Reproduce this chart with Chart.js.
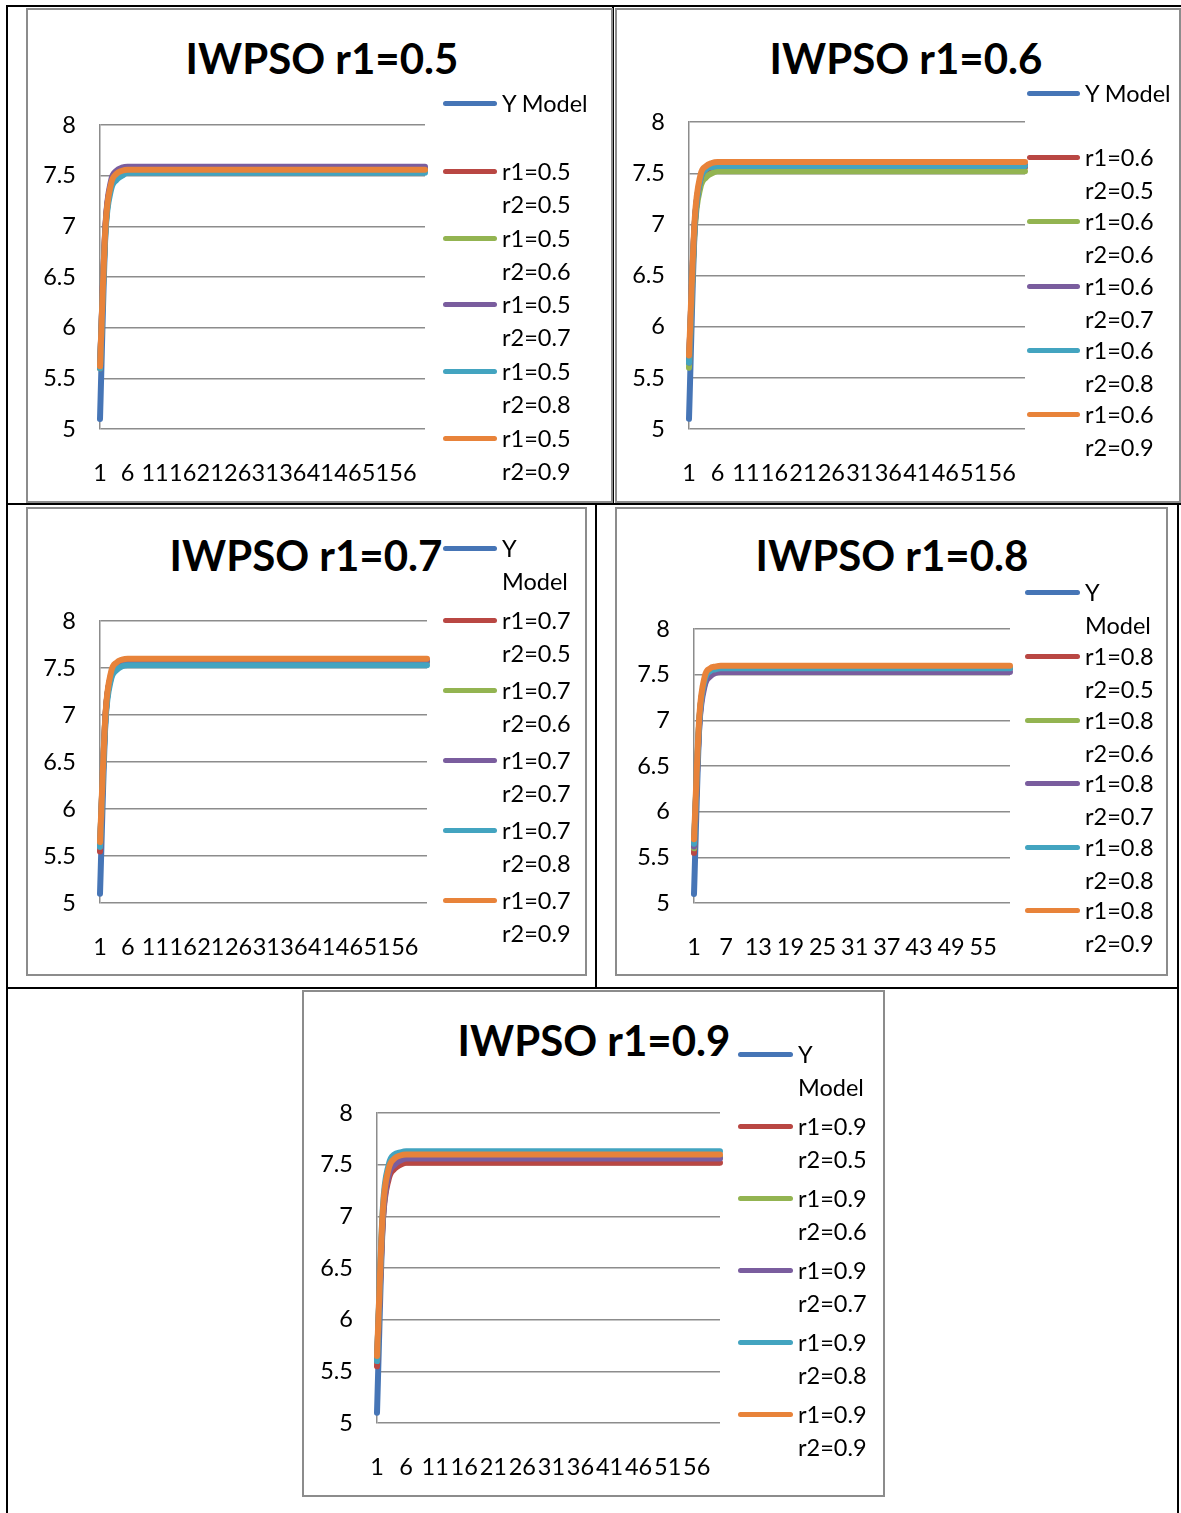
<!DOCTYPE html>
<html>
<head>
<meta charset="utf-8">
<script src="https://cdn.jsdelivr.net/npm/chart.js@4.4.0/dist/chart.umd.min.js"></script>
<style>
  body { margin: 0; background: #fff; font-family: Lato, "Open Sans", sans-serif; }
  #page { position: relative; width: 1181px; height: 1513px; overflow: hidden; }
  .rule { position: absolute; background: #000; }
  .frame { position: absolute; box-sizing: border-box; border: 2px solid #8c8c8c; background: #fff; }
  .title { position: absolute; width: 600px; text-align: center; font: bold 42px Lato, sans-serif; line-height: 50px; color: #000; white-space: nowrap; }
  .plot { position: absolute; }
  .swatch { position: absolute; height: 5px; border-radius: 3px; }
  .ltext { position: absolute; font-size: 23.5px; line-height: 33px; color: #000; white-space: nowrap; }
</style>
</head>
<body>
<div id="page"></div>
<script>
// x categories (iterations)
const categories = ['1','2','3','4','5','6','7','8','9','10','11','12','13','14','15','16','17','18','19','20',
  '21','22','23','24','25','26','27','28','29','30','31','32','33','34','35','36','37','38','39','40',
  '41','42','43','44','45','46','47','48','49','50','51','52','53','54','55','56','57','58','59','60'];

const r2Labels = ['0.5', '0.6', '0.7', '0.8', '0.9'];

// Y Model (same in every panel)
const yModel = [5.1, 6.95, 7.4, 7.5, 7.54, 7.57, 7.57, 7.57, 7.57, 7.57,
  7.57, 7.57, 7.57, 7.57, 7.57, 7.57, 7.57, 7.57, 7.57, 7.57,
  7.57, 7.57, 7.57, 7.57, 7.57, 7.57, 7.57, 7.57, 7.57, 7.57,
  7.57, 7.57, 7.57, 7.57, 7.57, 7.57, 7.57, 7.57, 7.57, 7.57,
  7.57, 7.57, 7.57, 7.57, 7.57, 7.57, 7.57, 7.57, 7.57, 7.57,
  7.57, 7.57, 7.57, 7.57, 7.57, 7.57, 7.57, 7.57, 7.57, 7.57];

// r1 = 0.5
const r105_r205 = [5.6, 7.0, 7.42, 7.52, 7.55, 7.56, 7.56, 7.56, 7.56, 7.56,
  7.56, 7.56, 7.56, 7.56, 7.56, 7.56, 7.56, 7.56, 7.56, 7.56,
  7.56, 7.56, 7.56, 7.56, 7.56, 7.56, 7.56, 7.56, 7.56, 7.56,
  7.56, 7.56, 7.56, 7.56, 7.56, 7.56, 7.56, 7.56, 7.56, 7.56,
  7.56, 7.56, 7.56, 7.56, 7.56, 7.56, 7.56, 7.56, 7.56, 7.56,
  7.56, 7.56, 7.56, 7.56, 7.56, 7.56, 7.56, 7.56, 7.56, 7.56];
const r105_r206 = [5.6, 6.98, 7.4, 7.5, 7.53, 7.55, 7.55, 7.55, 7.55, 7.55,
  7.55, 7.55, 7.55, 7.55, 7.55, 7.55, 7.55, 7.55, 7.55, 7.55,
  7.55, 7.55, 7.55, 7.55, 7.55, 7.55, 7.55, 7.55, 7.55, 7.55,
  7.55, 7.55, 7.55, 7.55, 7.55, 7.55, 7.55, 7.55, 7.55, 7.55,
  7.55, 7.55, 7.55, 7.55, 7.55, 7.55, 7.55, 7.55, 7.55, 7.55,
  7.55, 7.55, 7.55, 7.55, 7.55, 7.55, 7.55, 7.55, 7.55, 7.55];
const r105_r207 = [5.62, 7.02, 7.45, 7.55, 7.58, 7.59, 7.59, 7.59, 7.59, 7.59,
  7.59, 7.59, 7.59, 7.59, 7.59, 7.59, 7.59, 7.59, 7.59, 7.59,
  7.59, 7.59, 7.59, 7.59, 7.59, 7.59, 7.59, 7.59, 7.59, 7.59,
  7.59, 7.59, 7.59, 7.59, 7.59, 7.59, 7.59, 7.59, 7.59, 7.59,
  7.59, 7.59, 7.59, 7.59, 7.59, 7.59, 7.59, 7.59, 7.59, 7.59,
  7.59, 7.59, 7.59, 7.59, 7.59, 7.59, 7.59, 7.59, 7.59, 7.59];
const r105_r208 = [5.6, 6.95, 7.36, 7.46, 7.5, 7.53, 7.53, 7.53, 7.53, 7.53,
  7.53, 7.53, 7.53, 7.53, 7.53, 7.53, 7.53, 7.53, 7.53, 7.53,
  7.53, 7.53, 7.53, 7.53, 7.53, 7.53, 7.53, 7.53, 7.53, 7.53,
  7.53, 7.53, 7.53, 7.53, 7.53, 7.53, 7.53, 7.53, 7.53, 7.53,
  7.53, 7.53, 7.53, 7.53, 7.53, 7.53, 7.53, 7.53, 7.53, 7.53,
  7.53, 7.53, 7.53, 7.53, 7.53, 7.53, 7.53, 7.53, 7.53, 7.53];
const r105_r209 = [5.62, 7.0, 7.42, 7.52, 7.55, 7.56, 7.56, 7.56, 7.56, 7.56,
  7.56, 7.56, 7.56, 7.56, 7.56, 7.56, 7.56, 7.56, 7.56, 7.56,
  7.56, 7.56, 7.56, 7.56, 7.56, 7.56, 7.56, 7.56, 7.56, 7.56,
  7.56, 7.56, 7.56, 7.56, 7.56, 7.56, 7.56, 7.56, 7.56, 7.56,
  7.56, 7.56, 7.56, 7.56, 7.56, 7.56, 7.56, 7.56, 7.56, 7.56,
  7.56, 7.56, 7.56, 7.56, 7.56, 7.56, 7.56, 7.56, 7.56, 7.56];

// r1 = 0.6
const r106_r205 = [5.65, 7.0, 7.42, 7.52, 7.55, 7.56, 7.56, 7.56, 7.56, 7.56,
  7.56, 7.56, 7.56, 7.56, 7.56, 7.56, 7.56, 7.56, 7.56, 7.56,
  7.56, 7.56, 7.56, 7.56, 7.56, 7.56, 7.56, 7.56, 7.56, 7.56,
  7.56, 7.56, 7.56, 7.56, 7.56, 7.56, 7.56, 7.56, 7.56, 7.56,
  7.56, 7.56, 7.56, 7.56, 7.56, 7.56, 7.56, 7.56, 7.56, 7.56,
  7.56, 7.56, 7.56, 7.56, 7.56, 7.56, 7.56, 7.56, 7.56, 7.56];
const r106_r206 = [5.6, 6.95, 7.36, 7.46, 7.5, 7.52, 7.52, 7.52, 7.52, 7.52,
  7.52, 7.52, 7.52, 7.52, 7.52, 7.52, 7.52, 7.52, 7.52, 7.52,
  7.52, 7.52, 7.52, 7.52, 7.52, 7.52, 7.52, 7.52, 7.52, 7.52,
  7.52, 7.52, 7.52, 7.52, 7.52, 7.52, 7.52, 7.52, 7.52, 7.52,
  7.52, 7.52, 7.52, 7.52, 7.52, 7.52, 7.52, 7.52, 7.52, 7.52,
  7.52, 7.52, 7.52, 7.52, 7.52, 7.52, 7.52, 7.52, 7.52, 7.52];
const r106_r207 = [5.65, 7.0, 7.44, 7.54, 7.57, 7.58, 7.58, 7.58, 7.58, 7.58,
  7.58, 7.58, 7.58, 7.58, 7.58, 7.58, 7.58, 7.58, 7.58, 7.58,
  7.58, 7.58, 7.58, 7.58, 7.58, 7.58, 7.58, 7.58, 7.58, 7.58,
  7.58, 7.58, 7.58, 7.58, 7.58, 7.58, 7.58, 7.58, 7.58, 7.58,
  7.58, 7.58, 7.58, 7.58, 7.58, 7.58, 7.58, 7.58, 7.58, 7.58,
  7.58, 7.58, 7.58, 7.58, 7.58, 7.58, 7.58, 7.58, 7.58, 7.58];
const r106_r208 = [5.65, 7.0, 7.44, 7.54, 7.56, 7.57, 7.57, 7.57, 7.57, 7.57,
  7.57, 7.57, 7.57, 7.57, 7.57, 7.57, 7.57, 7.57, 7.57, 7.57,
  7.57, 7.57, 7.57, 7.57, 7.57, 7.57, 7.57, 7.57, 7.57, 7.57,
  7.57, 7.57, 7.57, 7.57, 7.57, 7.57, 7.57, 7.57, 7.57, 7.57,
  7.57, 7.57, 7.57, 7.57, 7.57, 7.57, 7.57, 7.57, 7.57, 7.57,
  7.57, 7.57, 7.57, 7.57, 7.57, 7.57, 7.57, 7.57, 7.57, 7.57];
const r106_r209 = [5.72, 7.05, 7.48, 7.57, 7.6, 7.61, 7.61, 7.61, 7.61, 7.61,
  7.61, 7.61, 7.61, 7.61, 7.61, 7.61, 7.61, 7.61, 7.61, 7.61,
  7.61, 7.61, 7.61, 7.61, 7.61, 7.61, 7.61, 7.61, 7.61, 7.61,
  7.61, 7.61, 7.61, 7.61, 7.61, 7.61, 7.61, 7.61, 7.61, 7.61,
  7.61, 7.61, 7.61, 7.61, 7.61, 7.61, 7.61, 7.61, 7.61, 7.61,
  7.61, 7.61, 7.61, 7.61, 7.61, 7.61, 7.61, 7.61, 7.61, 7.61];

// r1 = 0.7
const r107_r205 = [5.55, 7.0, 7.42, 7.53, 7.56, 7.57, 7.57, 7.57, 7.57, 7.57,
  7.57, 7.57, 7.57, 7.57, 7.57, 7.57, 7.57, 7.57, 7.57, 7.57,
  7.57, 7.57, 7.57, 7.57, 7.57, 7.57, 7.57, 7.57, 7.57, 7.57,
  7.57, 7.57, 7.57, 7.57, 7.57, 7.57, 7.57, 7.57, 7.57, 7.57,
  7.57, 7.57, 7.57, 7.57, 7.57, 7.57, 7.57, 7.57, 7.57, 7.57,
  7.57, 7.57, 7.57, 7.57, 7.57, 7.57, 7.57, 7.57, 7.57, 7.57];
const r107_r206 = [5.6, 7.0, 7.42, 7.53, 7.56, 7.57, 7.57, 7.57, 7.57, 7.57,
  7.57, 7.57, 7.57, 7.57, 7.57, 7.57, 7.57, 7.57, 7.57, 7.57,
  7.57, 7.57, 7.57, 7.57, 7.57, 7.57, 7.57, 7.57, 7.57, 7.57,
  7.57, 7.57, 7.57, 7.57, 7.57, 7.57, 7.57, 7.57, 7.57, 7.57,
  7.57, 7.57, 7.57, 7.57, 7.57, 7.57, 7.57, 7.57, 7.57, 7.57,
  7.57, 7.57, 7.57, 7.57, 7.57, 7.57, 7.57, 7.57, 7.57, 7.57];
const r107_r207 = [5.6, 7.0, 7.43, 7.54, 7.57, 7.58, 7.58, 7.58, 7.58, 7.58,
  7.58, 7.58, 7.58, 7.58, 7.58, 7.58, 7.58, 7.58, 7.58, 7.58,
  7.58, 7.58, 7.58, 7.58, 7.58, 7.58, 7.58, 7.58, 7.58, 7.58,
  7.58, 7.58, 7.58, 7.58, 7.58, 7.58, 7.58, 7.58, 7.58, 7.58,
  7.58, 7.58, 7.58, 7.58, 7.58, 7.58, 7.58, 7.58, 7.58, 7.58,
  7.58, 7.58, 7.58, 7.58, 7.58, 7.58, 7.58, 7.58, 7.58, 7.58];
const r107_r208 = [5.6, 6.95, 7.38, 7.48, 7.52, 7.53, 7.53, 7.53, 7.53, 7.53,
  7.53, 7.53, 7.53, 7.53, 7.53, 7.53, 7.53, 7.53, 7.53, 7.53,
  7.53, 7.53, 7.53, 7.53, 7.53, 7.53, 7.53, 7.53, 7.53, 7.53,
  7.53, 7.53, 7.53, 7.53, 7.53, 7.53, 7.53, 7.53, 7.53, 7.53,
  7.53, 7.53, 7.53, 7.53, 7.53, 7.53, 7.53, 7.53, 7.53, 7.53,
  7.53, 7.53, 7.53, 7.53, 7.53, 7.53, 7.53, 7.53, 7.53, 7.53];
const r107_r209 = [5.65, 7.02, 7.46, 7.56, 7.59, 7.6, 7.6, 7.6, 7.6, 7.6,
  7.6, 7.6, 7.6, 7.6, 7.6, 7.6, 7.6, 7.6, 7.6, 7.6,
  7.6, 7.6, 7.6, 7.6, 7.6, 7.6, 7.6, 7.6, 7.6, 7.6,
  7.6, 7.6, 7.6, 7.6, 7.6, 7.6, 7.6, 7.6, 7.6, 7.6,
  7.6, 7.6, 7.6, 7.6, 7.6, 7.6, 7.6, 7.6, 7.6, 7.6,
  7.6, 7.6, 7.6, 7.6, 7.6, 7.6, 7.6, 7.6, 7.6, 7.6];

// r1 = 0.8
const r108_r205 = [5.55, 7.0, 7.42, 7.53, 7.56, 7.57, 7.57, 7.57, 7.57, 7.57,
  7.57, 7.57, 7.57, 7.57, 7.57, 7.57, 7.57, 7.57, 7.57, 7.57,
  7.57, 7.57, 7.57, 7.57, 7.57, 7.57, 7.57, 7.57, 7.57, 7.57,
  7.57, 7.57, 7.57, 7.57, 7.57, 7.57, 7.57, 7.57, 7.57, 7.57,
  7.57, 7.57, 7.57, 7.57, 7.57, 7.57, 7.57, 7.57, 7.57, 7.57,
  7.57, 7.57, 7.57, 7.57, 7.57, 7.57, 7.57, 7.57, 7.57, 7.57];
const r108_r206 = [5.6, 7.0, 7.43, 7.54, 7.57, 7.58, 7.58, 7.58, 7.58, 7.58,
  7.58, 7.58, 7.58, 7.58, 7.58, 7.58, 7.58, 7.58, 7.58, 7.58,
  7.58, 7.58, 7.58, 7.58, 7.58, 7.58, 7.58, 7.58, 7.58, 7.58,
  7.58, 7.58, 7.58, 7.58, 7.58, 7.58, 7.58, 7.58, 7.58, 7.58,
  7.58, 7.58, 7.58, 7.58, 7.58, 7.58, 7.58, 7.58, 7.58, 7.58,
  7.58, 7.58, 7.58, 7.58, 7.58, 7.58, 7.58, 7.58, 7.58, 7.58];
const r108_r207 = [5.62, 6.95, 7.38, 7.48, 7.52, 7.53, 7.53, 7.53, 7.53, 7.53,
  7.53, 7.53, 7.53, 7.53, 7.53, 7.53, 7.53, 7.53, 7.53, 7.53,
  7.53, 7.53, 7.53, 7.53, 7.53, 7.53, 7.53, 7.53, 7.53, 7.53,
  7.53, 7.53, 7.53, 7.53, 7.53, 7.53, 7.53, 7.53, 7.53, 7.53,
  7.53, 7.53, 7.53, 7.53, 7.53, 7.53, 7.53, 7.53, 7.53, 7.53,
  7.53, 7.53, 7.53, 7.53, 7.53, 7.53, 7.53, 7.53, 7.53, 7.53];
const r108_r208 = [5.65, 7.0, 7.44, 7.54, 7.56, 7.57, 7.57, 7.57, 7.57, 7.57,
  7.57, 7.57, 7.57, 7.57, 7.57, 7.57, 7.57, 7.57, 7.57, 7.57,
  7.57, 7.57, 7.57, 7.57, 7.57, 7.57, 7.57, 7.57, 7.57, 7.57,
  7.57, 7.57, 7.57, 7.57, 7.57, 7.57, 7.57, 7.57, 7.57, 7.57,
  7.57, 7.57, 7.57, 7.57, 7.57, 7.57, 7.57, 7.57, 7.57, 7.57,
  7.57, 7.57, 7.57, 7.57, 7.57, 7.57, 7.57, 7.57, 7.57, 7.57];
const r108_r209 = [5.7, 7.05, 7.48, 7.57, 7.59, 7.6, 7.6, 7.6, 7.6, 7.6,
  7.6, 7.6, 7.6, 7.6, 7.6, 7.6, 7.6, 7.6, 7.6, 7.6,
  7.6, 7.6, 7.6, 7.6, 7.6, 7.6, 7.6, 7.6, 7.6, 7.6,
  7.6, 7.6, 7.6, 7.6, 7.6, 7.6, 7.6, 7.6, 7.6, 7.6,
  7.6, 7.6, 7.6, 7.6, 7.6, 7.6, 7.6, 7.6, 7.6, 7.6,
  7.6, 7.6, 7.6, 7.6, 7.6, 7.6, 7.6, 7.6, 7.6, 7.6];

// r1 = 0.9
const r109_r205 = [5.55, 6.95, 7.36, 7.46, 7.5, 7.52, 7.52, 7.52, 7.52, 7.52,
  7.52, 7.52, 7.52, 7.52, 7.52, 7.52, 7.52, 7.52, 7.52, 7.52,
  7.52, 7.52, 7.52, 7.52, 7.52, 7.52, 7.52, 7.52, 7.52, 7.52,
  7.52, 7.52, 7.52, 7.52, 7.52, 7.52, 7.52, 7.52, 7.52, 7.52,
  7.52, 7.52, 7.52, 7.52, 7.52, 7.52, 7.52, 7.52, 7.52, 7.52,
  7.52, 7.52, 7.52, 7.52, 7.52, 7.52, 7.52, 7.52, 7.52, 7.52];
const r109_r206 = [5.6, 7.0, 7.42, 7.53, 7.56, 7.58, 7.58, 7.58, 7.58, 7.58,
  7.58, 7.58, 7.58, 7.58, 7.58, 7.58, 7.58, 7.58, 7.58, 7.58,
  7.58, 7.58, 7.58, 7.58, 7.58, 7.58, 7.58, 7.58, 7.58, 7.58,
  7.58, 7.58, 7.58, 7.58, 7.58, 7.58, 7.58, 7.58, 7.58, 7.58,
  7.58, 7.58, 7.58, 7.58, 7.58, 7.58, 7.58, 7.58, 7.58, 7.58,
  7.58, 7.58, 7.58, 7.58, 7.58, 7.58, 7.58, 7.58, 7.58, 7.58];
const r109_r207 = [5.6, 6.98, 7.4, 7.5, 7.54, 7.56, 7.56, 7.56, 7.56, 7.56,
  7.56, 7.56, 7.56, 7.56, 7.56, 7.56, 7.56, 7.56, 7.56, 7.56,
  7.56, 7.56, 7.56, 7.56, 7.56, 7.56, 7.56, 7.56, 7.56, 7.56,
  7.56, 7.56, 7.56, 7.56, 7.56, 7.56, 7.56, 7.56, 7.56, 7.56,
  7.56, 7.56, 7.56, 7.56, 7.56, 7.56, 7.56, 7.56, 7.56, 7.56,
  7.56, 7.56, 7.56, 7.56, 7.56, 7.56, 7.56, 7.56, 7.56, 7.56];
const r109_r208 = [5.6, 7.08, 7.5, 7.6, 7.62, 7.63, 7.63, 7.63, 7.63, 7.63,
  7.63, 7.63, 7.63, 7.63, 7.63, 7.63, 7.63, 7.63, 7.63, 7.63,
  7.63, 7.63, 7.63, 7.63, 7.63, 7.63, 7.63, 7.63, 7.63, 7.63,
  7.63, 7.63, 7.63, 7.63, 7.63, 7.63, 7.63, 7.63, 7.63, 7.63,
  7.63, 7.63, 7.63, 7.63, 7.63, 7.63, 7.63, 7.63, 7.63, 7.63,
  7.63, 7.63, 7.63, 7.63, 7.63, 7.63, 7.63, 7.63, 7.63, 7.63];
const r109_r209 = [5.65, 7.05, 7.46, 7.56, 7.59, 7.6, 7.6, 7.6, 7.6, 7.6,
  7.6, 7.6, 7.6, 7.6, 7.6, 7.6, 7.6, 7.6, 7.6, 7.6,
  7.6, 7.6, 7.6, 7.6, 7.6, 7.6, 7.6, 7.6, 7.6, 7.6,
  7.6, 7.6, 7.6, 7.6, 7.6, 7.6, 7.6, 7.6, 7.6, 7.6,
  7.6, 7.6, 7.6, 7.6, 7.6, 7.6, 7.6, 7.6, 7.6, 7.6,
  7.6, 7.6, 7.6, 7.6, 7.6, 7.6, 7.6, 7.6, 7.6, 7.6];

// Excel-ish series colours: Y Model, r2=0.5 .. r2=0.9
const seriesColors = ['#4675B6', '#B94743', '#93B451', '#7A5D9E', '#43A4C0', '#E8833A'];
const gridGrey = '#8c8c8c';

// page layout: frame [x, y, w, h], plot [left, top, right, bottom], title centre, legend
const panels = [
  { r1: '0.5', series: [yModel, r105_r205, r105_r206, r105_r207, r105_r208, r105_r209], step: 5,
    frame: [26, 8, 587, 495], plot: [100, 125, 425, 429], titleAt: [322, 58],
    legend: { sx: 443, sw: 54, tx: 502, ys: [103, 171, 238, 304, 371, 438], wrapY: false } },
  { r1: '0.6', series: [yModel, r106_r205, r106_r206, r106_r207, r106_r208, r106_r209], step: 5,
    frame: [615, 8, 566, 495], plot: [689, 122, 1025, 429], titleAt: [906, 58],
    legend: { sx: 1027, sw: 53, tx: 1085, ys: [93, 157, 221, 286, 350, 414], wrapY: false } },
  { r1: '0.7', series: [yModel, r107_r205, r107_r206, r107_r207, r107_r208, r107_r209], step: 5,
    frame: [26, 507, 561, 469], plot: [100, 621, 427, 903], titleAt: [306, 555],
    legend: { sx: 443, sw: 54, tx: 502, ys: [548, 620, 690, 760, 830, 900], wrapY: true } },
  { r1: '0.8', series: [yModel, r108_r205, r108_r206, r108_r207, r108_r208, r108_r209], step: 6,
    frame: [615, 507, 553, 469], plot: [694, 629, 1010, 903], titleAt: [892, 555],
    legend: { sx: 1025, sw: 55, tx: 1085, ys: [592, 656, 720, 783, 847, 910], wrapY: true } },
  { r1: '0.9', series: [yModel, r109_r205, r109_r206, r109_r207, r109_r208, r109_r209], step: 5,
    frame: [302, 990, 583, 507], plot: [377, 1113, 720, 1423], titleAt: [594, 1040],
    legend: { sx: 738, sw: 55, tx: 798, ys: [1054, 1126, 1198, 1270, 1342, 1414], wrapY: true } }
];

// table rules [x, y, w, h]
const rules = [
  [6, 5, 1175, 2], [6, 5, 2, 1508], [612, 5, 2, 499], [6, 503, 1175, 2],
  [595, 503, 2, 486], [6, 987, 1173, 2], [1177, 503, 2, 1010]
];

const page = document.getElementById('page');
rules.forEach(r => {
  const d = document.createElement('div');
  d.className = 'rule';
  Object.assign(d.style, { left: r[0] + 'px', top: r[1] + 'px', width: r[2] + 'px', height: r[3] + 'px' });
  page.appendChild(d);
});

const Y_AXIS_W = 60, X_AXIS_H = 70, PAD_TOP = 14, PAD_RIGHT = 10;
const tickFont = { family: 'Lato', size: 23.5 };

panels.forEach(p => {
  const fr = document.createElement('div');
  fr.className = 'frame';
  Object.assign(fr.style, { left: p.frame[0] + 'px', top: p.frame[1] + 'px', width: p.frame[2] + 'px', height: p.frame[3] + 'px' });
  page.appendChild(fr);

  const t = document.createElement('div');
  t.className = 'title';
  t.textContent = 'IWPSO r1=' + p.r1;
  t.style.left = (p.titleAt[0] - 300) + 'px';
  t.style.top = (p.titleAt[1] - 25) + 'px';
  page.appendChild(t);

  const [pl, pt, pr, pb] = p.plot;
  const wrap = document.createElement('div');
  wrap.className = 'plot';
  const w = Y_AXIS_W + (pr - pl) + PAD_RIGHT;
  const h = PAD_TOP + (pb - pt) + X_AXIS_H;
  Object.assign(wrap.style, { left: (pl - Y_AXIS_W) + 'px', top: (pt - PAD_TOP) + 'px', width: w + 'px', height: h + 'px' });
  const cv = document.createElement('canvas');
  wrap.appendChild(cv);
  page.appendChild(wrap);

  const names = ['Y Model'].concat(r2Labels.map(r2 => 'r1=' + p.r1 + ' r2=' + r2));

  const chart = new Chart(cv, {
    type: 'line',
    data: {
      labels: categories,
      datasets: p.series.map((vals, i) => ({
        label: names[i],
        data: vals,
        borderColor: seriesColors[i],
        backgroundColor: seriesColors[i],
        borderWidth: 6,
        borderCapStyle: 'round',
        borderJoinStyle: 'round',
        pointRadius: 0,
        tension: 0.3,
        cubicInterpolationMode: 'monotone',
        order: p.series.length - i
      }))
    },
    options: {
      responsive: true,
      maintainAspectRatio: false,
      animation: false,
      layout: { padding: { top: PAD_TOP, right: PAD_RIGHT, left: 0, bottom: 0 } },
      plugins: { legend: { display: false }, title: { display: false }, tooltip: { enabled: false } },
      scales: {
        x: {
          offset: false,
          grid: { display: false, drawTicks: false },
          border: { display: false },
          afterFit: s => { s.height = X_AXIS_H; },
          ticks: {
            autoSkip: false, maxRotation: 0, minRotation: 0, padding: 30, color: '#000',
            font: tickFont,
            callback: (v, i) => (i % p.step === 0 ? categories[i] : '')
          }
        },
        y: {
          min: 5, max: 8,
          grid: { color: gridGrey, lineWidth: 1.5, drawTicks: false },
          border: { display: true, color: gridGrey, width: 1.5 },
          afterFit: s => { s.width = Y_AXIS_W; },
          ticks: { stepSize: 0.5, padding: 24, color: '#000', font: tickFont, callback: v => String(v) }
        }
      }
    }
  });

  // fit the canvas so the chart area lands on the reference plot rectangle
  let ca = chart.chartArea;
  wrap.style.width = (w + (pr - pl) - (ca.right - ca.left)) + 'px';
  wrap.style.height = (h + (pb - pt) - (ca.bottom - ca.top)) + 'px';
  chart.resize();
  ca = chart.chartArea;
  wrap.style.left = (pl - ca.left) + 'px';
  wrap.style.top = (pt - ca.top) + 'px';

  // legend, Excel style: wrapped labels beside a line swatch
  const lg = p.legend;
  names.forEach((name, i) => {
    const y = lg.ys[i];
    const sw = document.createElement('div');
    sw.className = 'swatch';
    Object.assign(sw.style, { left: lg.sx + 'px', top: (y - 2.5) + 'px', width: lg.sw + 'px', background: seriesColors[i] });
    page.appendChild(sw);
    const tx = document.createElement('div');
    tx.className = 'ltext';
    const lines = (i === 0 && !lg.wrapY) ? [name] : name.split(' ');
    tx.innerHTML = lines.join('<br>');
    Object.assign(tx.style, { left: lg.tx + 'px', top: (y - 16.5) + 'px' });
    page.appendChild(tx);
  });
});
</script>
</body>
</html>
